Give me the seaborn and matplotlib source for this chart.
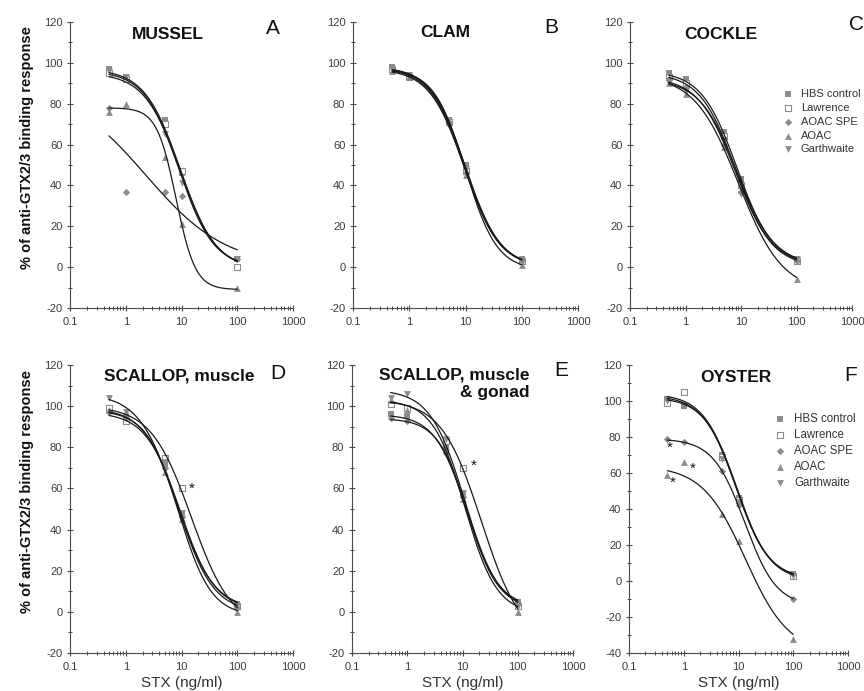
import numpy as np
import pandas as pd
import matplotlib
matplotlib.use("Agg")
import matplotlib.pyplot as plt
from matplotlib.ticker import FixedLocator, FixedFormatter, LogLocator, NullFormatter, MultipleLocator
import seaborn as sns

# STX standard concentrations (ng/ml)
conc = [0.5, 1, 5, 10, 100]

methods = ["HBS control", "Lawrence", "AOAC SPE", "AOAC", "Garthwaite"]

# % of anti-GTX2/3 binding response for each extraction method
mussel = {
    "HBS control": [97, 93, 72, 46, 4],
    "Lawrence":    [95, 92, 70, 47, 0],
    "AOAC SPE":    [78, 37, 37, 35, 4],
    "AOAC":        [76, 80, 54, 21, -10],
    "Garthwaite":  [96, 93, 65, 41, 4],
}
clam = {
    "HBS control": [98, 94, 72, 50, 4],
    "Lawrence":    [97, 93, 71, 47, 3],
    "AOAC SPE":    [98, 94, 70, 46, 4],
    "AOAC":        [96, 93, 72, 45, 1],
    "Garthwaite":  [97, 94, 70, 48, 2],
}
cockle = {
    "HBS control": [95, 92, 66, 43, 4],
    "Lawrence":    [93, 90, 64, 40, 3],
    "AOAC SPE":    [92, 88, 60, 37, 3],
    "AOAC":        [90, 85, 59, 38, -6],
    "Garthwaite":  [90, 86, 62, 36, 4],
}
scallop_muscle = {
    "HBS control": [98, 95, 72, 47, 4],
    "Lawrence":    [99, 93, 75, 60, 3],
    "AOAC SPE":    [97, 94, 70, 46, 2],
    "AOAC":        [98, 96, 68, 45, 0],
    "Garthwaite":  [104, 97, 73, 48, 3],
}
scallop_gonad = {
    "HBS control": [96, 95, 80, 57, 5],
    "Lawrence":    [101, 99, 83, 70, 3],
    "AOAC SPE":    [94, 93, 77, 56, 4],
    "AOAC":        [103, 98, 80, 55, 0],
    "Garthwaite":  [104, 106, 84, 58, 3],
}
oyster = {
    "HBS control": [101, 97, 70, 46, 4],
    "Lawrence":    [99, 105, 69, 45, 3],
    "AOAC SPE":    [79, 77, 61, 42, -10],
    "AOAC":        [59, 66, 37, 22, -32],
    "Garthwaite":  [100, 97, 68, 44, 3],
}

# four-parameter logistic fits: (top, bottom, IC50, Hill slope)
mussel_fit = {
    "HBS control": (97, -1, 9.5, 1.35),
    "Lawrence":    (95, -1, 9.5, 1.35),
    "AOAC SPE":    (90, 0, 2.3, 0.6),
    "AOAC":        (78, -11, 8.0, 2.5),
    "Garthwaite":  (96, 0, 9.0, 1.4),
}
clam_fit = {
    "HBS control": (98, 0, 10.0, 1.4),
    "Lawrence":    (97, 0, 9.6, 1.4),
    "AOAC SPE":    (98, 0.5, 9.8, 1.45),
    "AOAC":        (97, -1.5, 10.0, 1.55),
    "Garthwaite":  (97.5, 0, 9.8, 1.4),
}
cockle_fit = {
    "HBS control": (96, 1, 8.5, 1.35),
    "Lawrence":    (95, 1, 8.0, 1.35),
    "AOAC SPE":    (93, 0, 8.0, 1.3),
    "AOAC":        (94, -12, 9.0, 1.1),
    "Garthwaite":  (92, 1, 8.5, 1.3),
}
scallop_muscle_fit = {
    "HBS control": (99, 0, 9.0, 1.4),
    "Lawrence":    (100, -8, 15.0, 1.2),
    "AOAC SPE":    (97, 1, 9.5, 1.4),
    "AOAC":        (98, -2, 9.0, 1.5),
    "Garthwaite":  (106, 1, 8.0, 1.3),
}
scallop_gonad_fit = {
    "HBS control": (96, 2, 12.0, 1.5),
    "Lawrence":    (103, -15, 22.0, 1.2),
    "AOAC SPE":    (94, 2, 12.5, 1.6),
    "AOAC":        (103, -1, 11.0, 1.5),
    "Garthwaite":  (108, 0, 11.0, 1.4),
}
oyster_fit = {
    "HBS control": (103, 1, 9.0, 1.45),
    "Lawrence":    (104, 1, 9.0, 1.45),
    "AOAC SPE":    (79, -14, 13.0, 1.5),
    "AOAC":        (64, -40, 13.5, 1.1),
    "Garthwaite":  (102, 0, 9.5, 1.45),
}

panel_titles = [["MUSSEL"], ["CLAM"], ["COCKLE"], ["SCALLOP, muscle"],
                ["SCALLOP, muscle", "& gonad"], ["OYSTER"]]
panel_letters = ["A", "B", "C", "D", "E", "F"]

# significance marks (x, y)
stars_scallop_muscle = [(15.5, 60)]
stars_scallop_gonad = [(15.8, 71)]
stars_oyster = [(0.55, 74), (0.635, 54.5), (1.43, 62.3)]

# ---------------------------------------------------------------- styling
sns.set_theme(style="ticks")
plt.rcParams["font.family"] = ["Liberation Sans", "DejaVu Sans"]
plt.rcParams["axes.unicode_minus"] = False

GRAY = "#8c8c8c"
TICK = "#4a4a4a"
marker_style = {
    "HBS control": dict(marker="s", s=24),
    "Lawrence":    dict(marker="s", s=24, open=True),
    "AOAC SPE":    dict(marker="D", s=14),
    "AOAC":        dict(marker="^", s=24),
    "Garthwaite":  dict(marker="v", s=24),
}


def logistic(x, top, bottom, ic50, hill):
    return bottom + (top - bottom) / (1.0 + (x / ic50) ** hill)


def long_table(data):
    rows = []
    for m in methods:
        for x, y in zip(conc, data[m]):
            rows.append({"method": m, "conc": x, "response": y})
    return pd.DataFrame(rows)


def curve_table(fit):
    xs = np.geomspace(conc[0], conc[-1], 240)
    frames = []
    for m in methods:
        frames.append(pd.DataFrame({"method": m, "conc": xs,
                                    "response": logistic(xs, *fit[m])}))
    return pd.concat(frames, ignore_index=True)


fig = plt.figure(figsize=(8.64, 6.91), dpi=100)
W, H = 864, 691

# axes boxes in pixels: (left, top, right, bottom)
boxes = [
    (70, 22, 293, 308), (353, 22, 578, 308), (630, 22, 852, 308),
    (70, 365, 293, 653), (352, 365, 573, 653), (629, 365, 848, 653),
]
panels = [
    (mussel, mussel_fit, (-20, 120), []),
    (clam, clam_fit, (-20, 120), []),
    (cockle, cockle_fit, (-20, 120), []),
    (scallop_muscle, scallop_muscle_fit, (-20, 120), stars_scallop_muscle),
    (scallop_gonad, scallop_gonad_fit, (-20, 120), stars_scallop_gonad),
    (oyster, oyster_fit, (-40, 120), stars_oyster),
]
title_pos = [[(0.44, 0.955)], [(0.41, 0.962)], [(0.41, 0.958)], [(0.49, 0.962)],
             [(0.805, 0.965), (0.805, 0.903)], [(0.49, 0.958)]]
letter_pos = [(0.91, 0.979), (0.88, 0.982), (1.02, 0.99), (0.93, 0.97), (0.945, 0.98), (1.01, 0.965)]
legend_anchor = {2: (0.69, 0.765), 5: (0.67, 0.834)}

axes = []
for i, (box, (data, fit, ylim, stars)) in enumerate(zip(boxes, panels)):
    l, t, r, b = box
    ax = fig.add_axes([l / W, 1 - b / H, (r - l) / W, (b - t) / H])
    axes.append(ax)

    pts = long_table(data)
    crv = curve_table(fit)

    for m in methods:
        st = marker_style[m]
        sub = pts[pts["method"] == m]
        if st.get("open"):
            sns.scatterplot(data=sub, x="conc", y="response", ax=ax, marker=st["marker"],
                            s=st["s"], color=GRAY, facecolor="white", edgecolor=GRAY,
                            linewidth=0.8, label=m, zorder=2)
        else:
            sns.scatterplot(data=sub, x="conc", y="response", ax=ax, marker=st["marker"],
                            s=st["s"], color=GRAY, edgecolor=GRAY, linewidth=0,
                            label=m, zorder=2)

    for m in methods:
        sub = crv[crv["method"] == m]
        sns.lineplot(data=sub, x="conc", y="response", ax=ax, color="#1a1a1a",
                     linewidth=0.9, estimator=None, sort=False, legend=False, zorder=3)

    for sx, sy in stars:
        ax.text(sx, sy, "*", ha="center", va="center", fontsize=11, color="#111111")

    ax.set_xscale("log")
    ax.set_xlim(0.1, 1000)
    ax.set_ylim(*ylim)
    ax.xaxis.set_major_locator(FixedLocator([0.1, 1, 10, 100, 1000]))
    ax.xaxis.set_major_formatter(FixedFormatter(["0.1", "1", "10", "100", "1000"]))
    ax.xaxis.set_minor_locator(LogLocator(base=10, subs=np.arange(2, 10)))
    ax.xaxis.set_minor_formatter(NullFormatter())
    ax.yaxis.set_major_locator(MultipleLocator(20))
    ax.yaxis.set_minor_locator(MultipleLocator(10))

    for side in ("top", "right"):
        ax.spines[side].set_visible(False)
    for side in ("left", "bottom"):
        ax.spines[side].set_color(TICK)
        ax.spines[side].set_linewidth(0.8)
    ax.tick_params(which="major", direction="inout", length=5, width=0.8,
                   color=TICK, labelcolor="#3c3c3c", labelsize=8)
    ax.tick_params(which="minor", direction="inout", length=2.5, width=0.7, color=TICK)
    ax.tick_params(axis="x", which="major", pad=4)
    ax.tick_params(axis="y", which="major", pad=3)

    ax.set_xlabel("")
    ax.set_ylabel("")

    ha = "right" if len(panel_titles[i]) > 1 else "center"
    for line, (tx, ty) in zip(panel_titles[i], title_pos[i]):
        ax.text(tx, ty, line, transform=ax.transAxes, ha=ha, va="center",
                fontsize=12.5, fontweight="bold", color="#111111")
    lx, ly = letter_pos[i]
    ax.text(lx, ly, panel_letters[i], transform=ax.transAxes, ha="center", va="center",
            fontsize=15, color="#111111")

    if i in legend_anchor:
        leg = ax.legend(loc="upper left", bbox_to_anchor=legend_anchor[i], frameon=False,
                        fontsize=8 if i == 2 else 8.3, handlelength=0.8, handletextpad=0.8,
                        labelspacing=0.34 if i == 2 else 0.35, borderpad=0, borderaxespad=0)
        for txt in leg.get_texts():
            txt.set_color("#333333")
    elif ax.get_legend() is not None:
        ax.get_legend().remove()

    if i >= 3:
        ax.set_xlabel("STX (ng/ml)", fontsize=11, color="#333333", labelpad=3)

for ax in (axes[0], axes[3]):
    ax.set_ylabel("% of anti-GTX2/3 binding response", fontsize=10.5, fontweight="bold",
                  color="#111111")
    ax.yaxis.set_label_coords(-0.16, 0.56)

fig.savefig("out.png", dpi=100)
